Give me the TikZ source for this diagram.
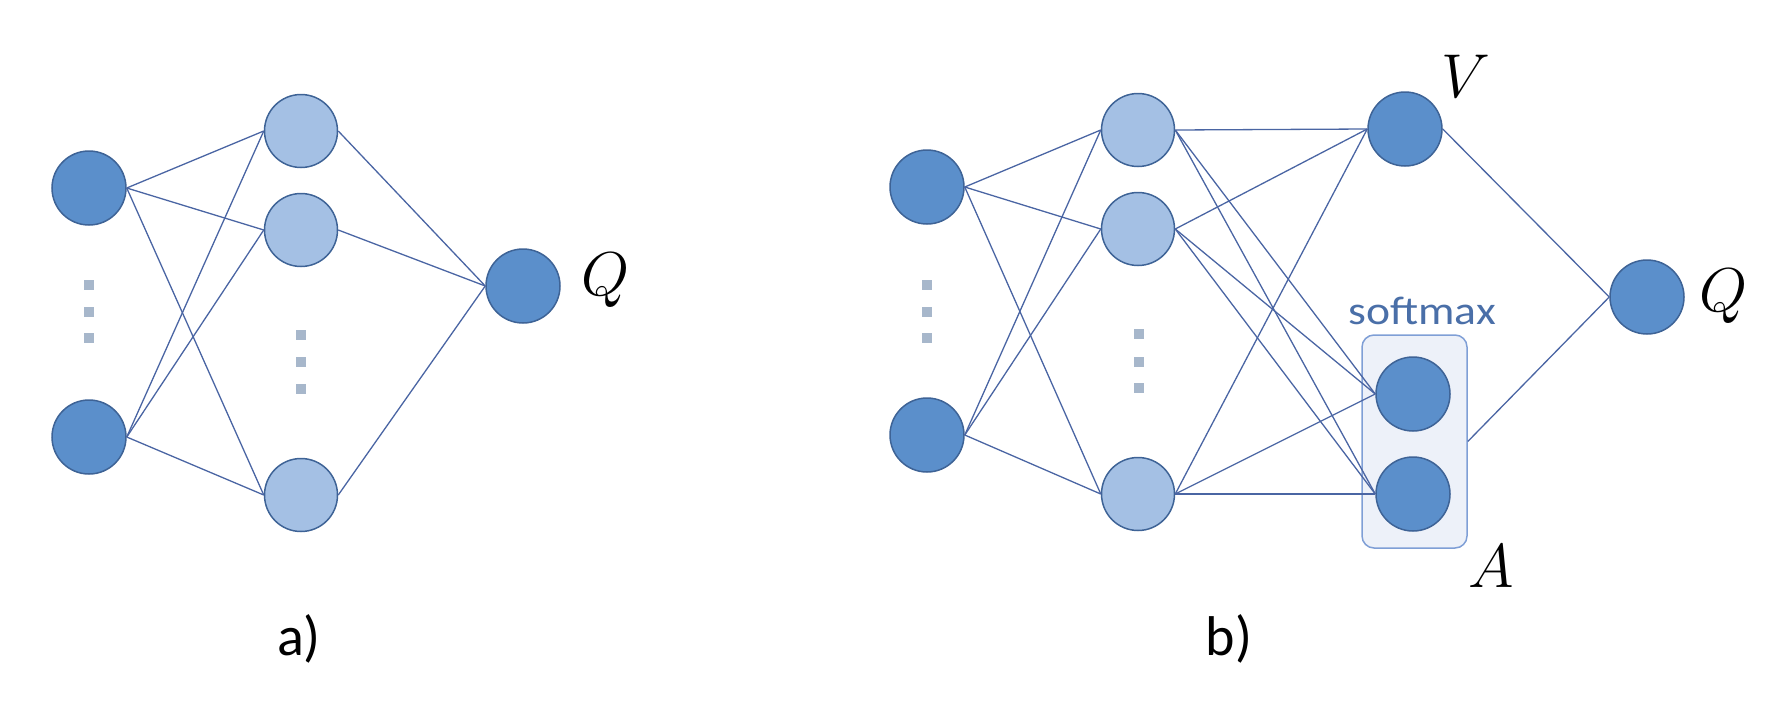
\documentclass[tikz,border=0pt]{standalone}
\usepackage{graphicx}
\usepackage{fontspec}
\newfontfamily\calibri{Carlito}
\definecolor{nodedark}{HTML}{5B8FCB}
\definecolor{nodelight}{HTML}{A4C0E4}
\definecolor{nodeborder}{HTML}{3E6396}
\definecolor{linecol}{HTML}{4A65A3}
\definecolor{dotcol}{HTML}{A7B7CB}
\definecolor{boxfill}{HTML}{EDF1F9}
\definecolor{boxdraw}{HTML}{7F9FD6}
\definecolor{smcol}{HTML}{4A6FA8}
\newcommand{\bigmath}[1]{\scalebox{2.49}{\Huge$#1$}}
\begin{document}
\begin{tikzpicture}[x=1pt,y=-1pt,
  dk/.style={circle,draw=nodeborder,fill=nodedark,line width=1.5pt,minimum size=74pt,inner sep=0pt},
  lt/.style={circle,draw=nodeborder,fill=nodelight,line width=1.5pt,minimum size=73pt,inner sep=0pt},
  conn/.style={draw=linecol,line width=1.3pt},
  dotsq/.style={rectangle,fill=dotcol,minimum size=10pt,inner sep=0pt},
  mlab/.style={inner sep=0pt,anchor=base},
  sublab/.style={font=\calibri\fontsize{56}{56}\selectfont,inner sep=0pt,anchor=base},
  abox/.style={rectangle,rounded corners=12pt,draw=boxdraw,fill=boxfill,line width=1.5pt,minimum width=105pt,minimum height=213pt,inner sep=0pt}]
\useasboundingbox (0,0) rectangle (1774,712);

% ---------- a) ----------
\node[dk] (aI1) at (89,188) {};
\node[dk] (aI2) at (89,437) {};
\node[lt] (aH1) at (301,131) {};
\node[lt] (aH2) at (301,230) {};
\node[lt] (aH3) at (301,495) {};
\node[dk] (aQ) at (523,286) {};
\foreach \y [count=\i] in {285,312,338} {\node[dotsq] (adi\i) at (89,\y) {};}
\foreach \y [count=\i] in {335,362,389} {\node[dotsq] (adh\i) at (301,\y) {};}
\foreach \s in {aI1,aI2} {\foreach \t in {aH1,aH2,aH3} {\draw[conn] (\s.east) -- (\t.west);}}
\foreach \s in {aH1,aH2,aH3} {\draw[conn] (\s.east) -- (aQ.west);}
\node[mlab] (aQl) at (606,295) {\bigmath{Q}};
\node[sublab] (alab) at (299,655) {a)};

% ---------- b) ----------
\node[abox] (box) at (1414.5,441.5) {};
\node[dk] (bI1) at (927,187) {};
\node[dk] (bI2) at (927,435) {};
\node[lt] (bH1) at (1138,130) {};
\node[lt] (bH2) at (1138,229) {};
\node[lt] (bH3) at (1138,494) {};
\node[dk] (bV) at (1405,129) {};
\node[dk] (bA1) at (1413,394) {};
\node[dk] (bA2) at (1413,494) {};
\node[dk] (bQ) at (1647,297) {};
\foreach \y [count=\i] in {285,312,338} {\node[dotsq] (bdi\i) at (927,\y) {};}
\foreach \y [count=\i] in {334,362,388} {\node[dotsq] (bdh\i) at (1139,\y) {};}
\foreach \s in {bI1,bI2} {\foreach \t in {bH1,bH2,bH3} {\draw[conn] (\s.east) -- (\t.west);}}
\foreach \s in {bH1,bH2,bH3} {\foreach \t in {bV,bA1,bA2} {\draw[conn] (\s.east) -- (\t.west);}}
\draw[conn] (bV.east) -- (bQ.west);
\draw[conn] (box.east) -- (bQ.west);
\node[font=\calibri\fontsize{40}{40}\selectfont,text=smcol,inner sep=0pt,anchor=base] (sm) at (1422,324) {\scalebox{1.14}[1]{softmax}};
\node[mlab] (Vl) at (1466,97) {\bigmath{V}};
\node[mlab] (Al) at (1491,587) {\bigmath{A}};
\node[mlab] (bQl) at (1723,311) {\bigmath{Q}};
\node[sublab] (blab) at (1229,655) {b)};
\end{tikzpicture}
\end{document}
